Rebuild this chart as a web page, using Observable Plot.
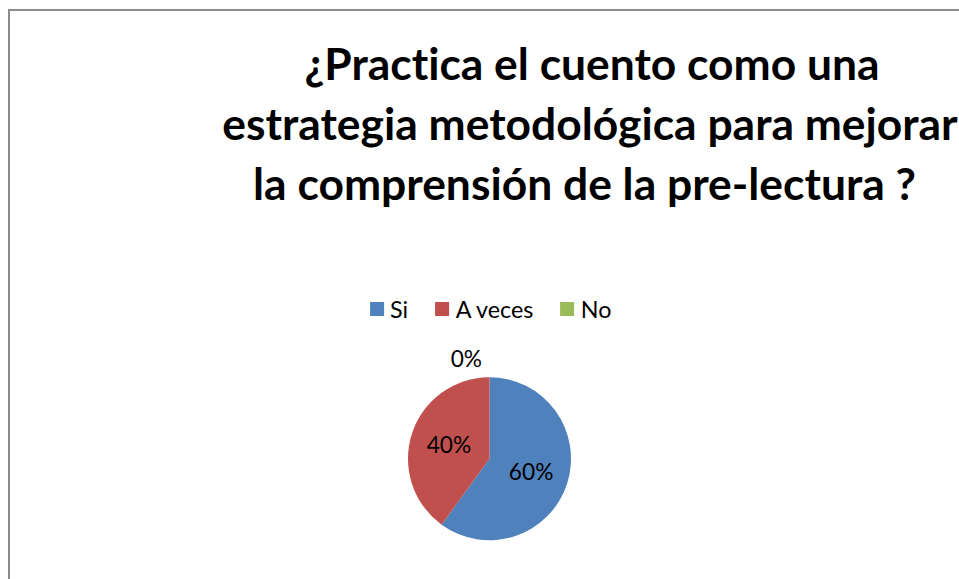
<!DOCTYPE html>
<html>
<head>
<meta charset="utf-8">
<script src="https://cdn.jsdelivr.net/npm/d3@7"></script>
<script src="https://cdn.jsdelivr.net/npm/@observablehq/plot@0.6"></script>
<style>
html, body { margin: 0; padding: 0; background: #fff; }
body { width: 959px; height: 579px; overflow: hidden; position: relative; font-family: Lato, "Open Sans", sans-serif; font-variant-ligatures: none; }
#frame { position: absolute; left: 8px; top: 9px; width: 1000px; height: 700px; border: 2px solid #8c8c8c; box-sizing: border-box; }
.tline { position: absolute; white-space: nowrap; font-weight: bold; color: #000; transform: translateX(-50%); font-family: Lato, sans-serif; font-variant-ligatures: none; }
#legend { position: absolute; left: 490.5px; top: 298px; height: 22px; transform: translateX(-50%); white-space: nowrap; }
#legend > div { display: flex !important; align-items: center; margin: 0 !important; min-height: 0 !important; height: 22px; font-family: Lato, sans-serif !important; color: #000; flex-wrap: nowrap !important; font-variant-ligatures: none; }
#legend .lg-swatch, #legend span { display: inline-flex; align-items: center; margin-right: 27px !important; }
#legend .lg-swatch:last-child, #legend span:last-child { margin-right: 0 !important; }
#legend svg { margin-right: 6.5px !important; }
#chart { position: absolute; left: 0; top: 320px; }
#chart text { font-variant-ligatures: none; }
</style>
</head>
<body>
<div id="frame"></div>
<div id="title"></div>
<div id="legend"></div>
<div id="chart"></div>
<script>
// ---- data ----
const categories = ["Si", "A veces", "No"];
const values = [60, 40, 0];
const labels = ["60%", "40%", "0%"];
const colors = ["#4F81BD", "#C0504D", "#9BBB59"];
const titleLines = [
  "¿Practica el cuento como una",
  "estrategia metodológica para mejorar",
  "la comprensión de la pre-lectura ?"
];

// ---- layout ----
const W = 959, H = 259;
const CX = 489.5, CY = 138.7, R = 81.5;

const ctx = document.createElement("canvas").getContext("2d");
function measure(text, font) { ctx.font = font; return ctx.measureText(text); }
function fitSize(text, weight, target) {
  const m = measure(text, `${weight} 100px Lato`);
  return 100 * target / m.width;
}

// Title
const titleSize = fitSize(titleLines[0], "bold", 576);
const lineH = 60;
const baselines = [80, 140, 200];
const centers = [592, 590, 584.5];
const tm = measure("Ág", `bold ${titleSize}px Lato`);
const fa = tm.fontBoundingBoxAscent, fd = tm.fontBoundingBoxDescent;
const titleDiv = document.getElementById("title");
titleLines.forEach((t, i) => {
  const d = document.createElement("div");
  d.className = "tline";
  d.textContent = t;
  d.style.fontSize = titleSize + "px";
  d.style.lineHeight = lineH + "px";
  d.style.left = centers[i] + "px";
  d.style.top = (baselines[i] - ((lineH - (fa + fd)) / 2 + fa)) + "px";
  titleDiv.appendChild(d);
});

// Legend
const legendSize = fitSize("A veces", "normal", 79);
const legend = Plot.legend({
  color: { domain: categories, range: colors },
  legend: "swatches",
  swatchSize: 14,
  className: "lg",
  style: { fontSize: legendSize + "px", fontFamily: "Lato, sans-serif", color: "#000" }
});
document.getElementById("legend").appendChild(legend);

// Pie
const colorScale = Plot.scale({ color: { domain: categories, range: colors } });
const rows = categories.map((c, i) => ({ category: c, value: values[i], label: labels[i] }));
const arcs = d3.pie().sort(null).value(d => d.value)(rows);
arcs.forEach(a => { a.data.arc = a; });
const arcGen = d3.arc().innerRadius(0).outerRadius(R);
const labelR = R * 0.53;
const labelArc = d3.arc().innerRadius(labelR).outerRadius(labelR);
const labelSize = fitSize("40%", "normal", 44.5);

function pieMark() {
  const g = d3.create("svg:g").attr("transform", `translate(${CX},${CY})`);
  g.selectAll("path")
    .data(arcs.filter(a => a.value > 0))
    .join("path")
    .attr("d", arcGen)
    .attr("fill", a => colorScale.apply(a.data.category));
  return g.node();
}

const chart = Plot.plot({
  width: W,
  height: H,
  margin: 0,
  style: { fontFamily: "Lato, sans-serif", background: "transparent" },
  x: { type: "identity", axis: null },
  y: { type: "identity", axis: null },
  marks: [
    pieMark,
    Plot.text(rows.filter(d => d.value > 0), {
      x: d => CX + labelArc.centroid(d.arc)[0],
      y: d => CY + labelArc.centroid(d.arc)[1],
      text: "label",
      fill: "#000",
      fontSize: labelSize
    }),
    Plot.text(rows.filter(d => d.value === 0), {
      x: d => CX + Math.sin(d.arc.startAngle) * (R + 18),
      y: d => CY - Math.cos(d.arc.startAngle) * (R + 18),
      text: "label",
      textAnchor: "end",
      dx: -8,
      fill: "#000",
      fontSize: labelSize
    })
  ]
});
document.getElementById("chart").appendChild(chart);
</script>
</body>
</html>
